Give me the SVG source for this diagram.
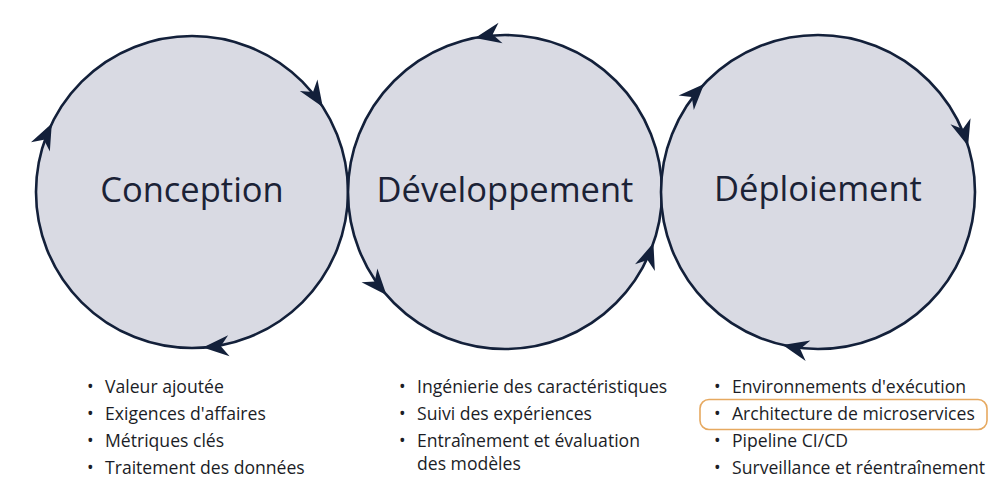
<svg xmlns="http://www.w3.org/2000/svg" width="1000" height="500" viewBox="0 0 1000 500">
<style>
.c{fill:#d9dae3;stroke:#13203a;stroke-width:2.6}
.t{font-family:"Open Sans","Noto Sans",sans-serif;font-size:34.5px;fill:#1b2236;text-anchor:middle}
.b{font-family:"Open Sans","Noto Sans",sans-serif;font-size:17.6px;fill:#1b1d26}
.a{fill:#13203a}
</style>
<defs>
<path id="ah" d="M0,0 L-26,-10.5 L-18,0 L-26,10.5 Z"/>
</defs>
<rect width="1000" height="500" fill="#ffffff"/>
<g id="conception">
<circle class="c" cx="192" cy="192" r="156"/>
<text class="t" x="192" y="202">Conception</text>
</g>
<g id="developpement">
<circle class="c" cx="505" cy="192" r="157"/>
<text class="t" x="505" y="202">Développement</text>
</g>
<g id="deploiement">
<circle class="c" cx="818" cy="192" r="157"/>
<text class="t" x="818" y="201">Déploiement</text>
</g>
<g id="connectors" class="a">
<use href="#ah" transform="translate(322.8,107) rotate(57)"/>
<use href="#ah" transform="translate(202.9,347.6) rotate(176)"/>
<use href="#ah" transform="translate(51.8,123.6) rotate(296)"/>
<use href="#ah" transform="translate(475,37.9) rotate(169)"/>
<use href="#ah" transform="translate(386.5,295) rotate(49)"/>
<use href="#ah" transform="translate(653.4,243.1) rotate(-71)"/>
<use href="#ah" transform="translate(704.1,83.9) rotate(313.5)"/>
<use href="#ah" transform="translate(968.1,146.1) rotate(73)"/>
<use href="#ah" transform="translate(782.7,345) rotate(193)"/>
</g>
<g id="list-conception" class="b">
<text x="87" y="393">•</text><text x="105" y="393">Valeur ajoutée</text>
<text x="87" y="420">•</text><text x="105" y="420">Exigences d'affaires</text>
<text x="87" y="447">•</text><text x="105" y="447">Métriques clés</text>
<text x="87" y="474">•</text><text x="105" y="474">Traitement des données</text>
</g>
<g id="list-developpement" class="b">
<text x="399" y="393">•</text><text x="417" y="393">Ingénierie des caractéristiques</text>
<text x="399" y="420">•</text><text x="417" y="420">Suivi des expériences</text>
<text x="399" y="447">•</text><text x="417" y="447">Entraînement et évaluation</text>
<text x="417" y="470">des modèles</text>
</g>
<g id="list-deploiement" class="b">
<rect x="700" y="399.5" width="287" height="30" rx="9" fill="none" stroke="#e6a960" stroke-width="1.6"/>
<text x="714" y="393">•</text><text x="732" y="393">Environnements d'exécution</text>
<text x="714" y="420">•</text><text x="732" y="420">Architecture de microservices</text>
<text x="714" y="447">•</text><text x="732" y="447">Pipeline CI/CD</text>
<text x="714" y="474">•</text><text x="732" y="474">Surveillance et réentraînement</text>
</g>
</svg>
